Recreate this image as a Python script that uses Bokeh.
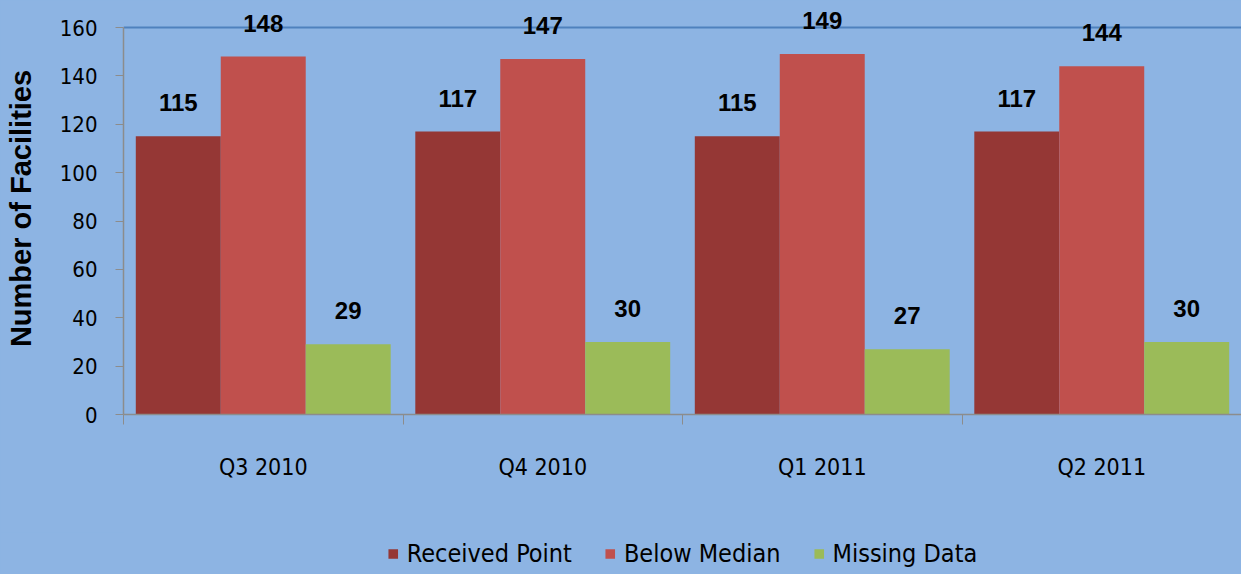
from bokeh.plotting import figure
from bokeh.layouts import column
from bokeh.models import (ColumnDataSource, Range1d, FixedTicker, LabelSet,
                          Legend, LegendItem)
from bokeh.core.properties import value
from bokeh.embed import file_html
from bokeh.resources import INLINE

# ---- data ----
categories = ["Q3 2010", "Q4 2010", "Q1 2011", "Q2 2011"]
received_point = [115, 117, 115, 117]
below_median = [148, 147, 149, 144]
missing_data = [29, 30, 27, 30]
series_names = ["Received Point", "Below Median", "Missing Data"]
series_colors = ["#953735", "#C0504D", "#9BBB59"]
y_ticks = [0, 20, 40, 60, 80, 100, 120, 140, 160]

NARROW = "DejaVu Sans Condensed"
BOLD = "Liberation Sans"
BG = "#8DB4E3"

# frame: top at 2px, bottom at 414px; 160 must sit at 27px
Y_MAX = y_ticks[-1]
Y_TOP = Y_MAX * (414 - 2) / (414 - 27)

p = figure(width=1241, height=532, output_backend="svg", toolbar_location=None,
           x_range=Range1d(0, len(categories)), y_range=Range1d(0, Y_TOP),
           background_fill_color=BG, border_fill_color=BG,
           min_border_left=123, min_border_top=2, min_border_right=0,
           min_border_bottom=118)
p.outline_line_color = None
p.xgrid.visible = False
p.ygrid.ticker = FixedTicker(ticks=[Y_MAX])
p.ygrid.grid_line_color = "#4F81BD"
p.ygrid.grid_line_width = 2

# legend strip underneath the chart (its ranges keep the swatch renderers off-view)
lg = figure(width=1241, height=42, output_backend="svg", toolbar_location=None,
            x_axis_type=None, y_axis_type=None,
            x_range=Range1d(100, 101), y_range=Range1d(1000, 1001),
            background_fill_color=BG, border_fill_color=BG, min_border=0)
lg.outline_line_color = None

bar_w = 0.304
offsets = [-bar_w, 0.0, bar_w]
all_series = [received_point, below_median, missing_data]
items = []
for name, col, vals, off in zip(series_names, series_colors, all_series, offsets):
    src = ColumnDataSource(dict(x=[i + 0.5 + off for i in range(len(categories))],
                                top=vals, lab=[str(v) for v in vals]))
    p.vbar(x="x", top="top", width=bar_w, bottom=0, source=src,
           fill_color=col, line_color=None)
    labels = LabelSet(x="x", y="top", text="lab", source=src, y_offset=25,
                      text_align="center", text_baseline="bottom",
                      text_font=value(BOLD), text_font_style="bold",
                      text_font_size="24px", text_color="black")
    p.add_layout(labels)
    r = lg.vbar(x="x", top="top", width=bar_w, bottom=0, source=src,
                fill_color=col, line_color=None)
    items.append(LegendItem(label=name, renderers=[r]))

# y axis
ya = p.yaxis[0]
ya.ticker = FixedTicker(ticks=y_ticks)
ya.bounds = (0, Y_MAX)
ya.axis_label = "Number of Facilities"
ya.axis_label_text_font = BOLD
ya.axis_label_text_font_style = "bold"
ya.axis_label_text_font_size = "29px"
ya.axis_label_text_color = "black"
ya.axis_label_standoff = 20
ya.major_label_text_font = NARROW
ya.major_label_text_font_size = "22px"
ya.major_label_text_color = "black"
ya.major_label_standoff = 18
ya.major_tick_out = 8
ya.major_tick_in = 0
ya.minor_tick_out = 0
ya.minor_tick_in = 0
ya.axis_line_color = "#8C8C8C"
ya.major_tick_line_color = "#8C8C8C"
ya.axis_line_width = 1.5

# x axis
xa = p.xaxis[0]
xa.ticker = FixedTicker(ticks=[i + 0.5 for i in range(len(categories))],
                        minor_ticks=list(range(len(categories) + 1)))
xa.major_label_overrides = {i + 0.5: c for i, c in enumerate(categories)}
xa.major_label_text_font = NARROW
xa.major_label_text_font_size = "23px"
xa.major_label_text_color = "black"
xa.major_label_standoff = 29
xa.major_tick_out = 0
xa.major_tick_in = 0
xa.minor_tick_out = 10
xa.minor_tick_in = 0
xa.axis_line_color = "#8C8C8C"
xa.minor_tick_line_color = "#8C8C8C"
xa.axis_line_width = 1.5

legend = Legend(items=items, orientation="horizontal", location="center",
                background_fill_alpha=0, border_line_color=None,
                label_text_font=NARROW, label_text_font_size="25px",
                label_text_color="black",
                glyph_width=12, glyph_height=12, label_standoff=8,
                spacing=32, padding=0, margin=0, label_height=22)
lg.add_layout(legend, "center")

layout = column(p, lg, spacing=0, styles={"background-color": BG})
open("out.html", "w").write(file_html(layout, INLINE))
